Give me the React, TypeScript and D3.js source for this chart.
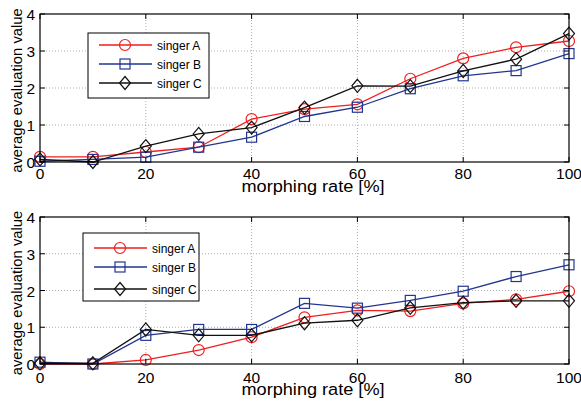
import React, { useEffect, useRef } from "react";
import * as d3 from "d3";

// data
const rates = [0, 10, 20, 30, 40, 50, 60, 70, 80, 90, 100];
const xTicks = [0, 20, 40, 60, 80, 100];
const yTicks = [0, 1, 2, 3, 4];
const seriesNames = ["singer A", "singer B", "singer C"];

const topA = [0.14, 0.14, 0.27, 0.4, 1.16, 1.43, 1.56, 2.25, 2.8, 3.1, 3.27];
const topB = [0.02, 0.07, 0.13, 0.4, 0.67, 1.23, 1.48, 1.98, 2.33, 2.47, 2.93];
const topC = [0.07, 0.0, 0.43, 0.76, 0.93, 1.47, 2.06, 2.05, 2.46, 2.78, 3.47];

const botA = [0.0, 0.0, 0.11, 0.38, 0.73, 1.27, 1.46, 1.44, 1.65, 1.76, 1.98];
const botB = [0.05, 0.0, 0.78, 0.94, 0.94, 1.65, 1.52, 1.73, 1.98, 2.38, 2.7];
const botC = [0.02, 0.02, 0.94, 0.78, 0.78, 1.11, 1.19, 1.53, 1.67, 1.72, 1.72];

const colors = ["#f01e1e", "#22368f", "#111111"];
const FONT = "'Liberation Sans', Arial, sans-serif";

const App = () => {
  const svgRef = useRef(null);

  useEffect(() => {
    const width = 581;
    const height = 405;
    const svg = d3
      .select(svgRef.current)
      .attr("width", width)
      .attr("height", height)
      .attr("viewBox", [0, 0, width, height])
      .style("font-family", FONT);

    svg.selectAll("*").remove();

    const panels = [
      {
        top: 14,
        bottom: 162,
        data: [topA, topB, topC],
        tickDy: 17,
        labelDy: 30,
        legend: { x: 88, y: 33, w: 121, h: 65, rows: [12, 31, 50] },
      },
      {
        top: 217,
        bottom: 364,
        data: [botA, botB, botC],
        tickDy: 19,
        labelDy: 31,
        legend: { x: 83, y: 233, w: 116, h: 68, rows: [15, 34, 56] },
      },
    ];

    const marker = (g, i, cx, cy, color) => {
      if (i === 0) {
        g.append("circle")
          .attr("cx", cx)
          .attr("cy", cy)
          .attr("r", 5.5)
          .attr("fill", "none")
          .attr("stroke", color)
          .attr("stroke-width", 1.2);
      } else if (i === 1) {
        g.append("rect")
          .attr("x", cx - 5)
          .attr("y", cy - 5)
          .attr("width", 10)
          .attr("height", 10)
          .attr("fill", "none")
          .attr("stroke", color)
          .attr("stroke-width", 1.2);
      } else {
        g.append("path")
          .attr("d", `M${cx},${cy - 6.5}L${cx + 5.5},${cy}L${cx},${cy + 6.5}L${cx - 5.5},${cy}Z`)
          .attr("fill", "none")
          .attr("stroke", color)
          .attr("stroke-width", 1.2);
      }
    };

    panels.forEach((p) => {
      const x = d3.scaleLinear().domain([0, 100]).range([40, 569]);
      const y = d3.scaleLinear().domain([0, 4]).range([p.bottom, p.top]);
      const g = svg.append("g");

      // grid
      g.append("g")
        .selectAll("line")
        .data(xTicks.slice(1, -1))
        .join("line")
        .attr("x1", (d) => x(d))
        .attr("x2", (d) => x(d))
        .attr("y1", p.top)
        .attr("y2", p.bottom)
        .attr("stroke", "#999")
        .attr("stroke-width", 0.8)
        .attr("stroke-dasharray", "1,2");
      g.append("g")
        .selectAll("line")
        .data(yTicks.slice(1, -1))
        .join("line")
        .attr("x1", 40)
        .attr("x2", 569)
        .attr("y1", (d) => y(d))
        .attr("y2", (d) => y(d))
        .attr("stroke", "#999")
        .attr("stroke-width", 0.8)
        .attr("stroke-dasharray", "1,2");

      // series
      const line = d3
        .line()
        .x((d, i) => x(rates[i]))
        .y((d) => y(d));
      p.data.forEach((vals, si) => {
        g.append("path")
          .datum(vals)
          .attr("d", line)
          .attr("fill", "none")
          .attr("stroke", colors[si])
          .attr("stroke-width", 1.3);
        const mg = g.append("g");
        vals.forEach((v, i) => marker(mg, si, x(rates[i]), y(v), colors[si]));
      });

      // box
      g.append("rect")
        .attr("x", 40)
        .attr("y", p.top)
        .attr("width", 529)
        .attr("height", p.bottom - p.top)
        .attr("fill", "none")
        .attr("stroke", "#000")
        .attr("stroke-width", 1.2);

      // inward ticks
      const tk = g.append("g").attr("stroke", "#000").attr("stroke-width", 1);
      xTicks.forEach((t) => {
        tk.append("line").attr("x1", x(t)).attr("x2", x(t)).attr("y1", p.bottom).attr("y2", p.bottom - 5);
        tk.append("line").attr("x1", x(t)).attr("x2", x(t)).attr("y1", p.top).attr("y2", p.top + 5);
      });
      yTicks.forEach((t) => {
        tk.append("line").attr("x1", 40).attr("x2", 45).attr("y1", y(t)).attr("y2", y(t));
        tk.append("line").attr("x1", 569).attr("x2", 564).attr("y1", y(t)).attr("y2", y(t));
      });

      // tick labels
      g.append("g")
        .selectAll("text")
        .data(xTicks)
        .join("text")
        .attr("x", (d) => x(d))
        .attr("y", p.bottom + p.tickDy)
        .attr("text-anchor", "middle")
        .attr("font-size", 15.5)
        .text((d) => d);
      g.append("g")
        .selectAll("text")
        .data(yTicks)
        .join("text")
        .attr("x", 35)
        .attr("y", (d) => y(d) + 6)
        .attr("text-anchor", "end")
        .attr("font-size", 15.5)
        .text((d) => d);

      // axis labels
      g.append("text")
        .attr("transform", `translate(313,${p.bottom + p.labelDy}) scale(1.1,1)`)
        .attr("text-anchor", "middle")
        .attr("font-size", 16.5)
        .text("morphing rate [%]");
      g.append("text")
        .attr("transform", `translate(22,${(p.top + p.bottom) / 2 + 2.5}) rotate(-90)`)
        .attr("text-anchor", "middle")
        .attr("font-size", 14.8)
        .text("average evaluation value");

      // legend
      const L = p.legend;
      const lg = g.append("g").attr("transform", `translate(${L.x},${L.y})`);
      lg.append("rect")
        .attr("width", L.w)
        .attr("height", L.h)
        .attr("fill", "#fff")
        .attr("stroke", "#000")
        .attr("stroke-width", 1);
      seriesNames.forEach((name, i) => {
        const ly = L.rows[i];
        lg.append("line")
          .attr("x1", 11)
          .attr("x2", 64)
          .attr("y1", ly)
          .attr("y2", ly)
          .attr("stroke", colors[i])
          .attr("stroke-width", 1.3);
        marker(lg, i, 37, ly, colors[i]);
        lg.append("text")
          .attr("x", 69)
          .attr("y", ly + 4.5)
          .attr("font-size", 12)
          .text(name);
      });
    });
  }, []);

  return (
    <svg
      ref={svgRef}
      style={{ position: "absolute", left: 0, top: 0, background: "#fff" }}
    />
  );
};

export default App;
